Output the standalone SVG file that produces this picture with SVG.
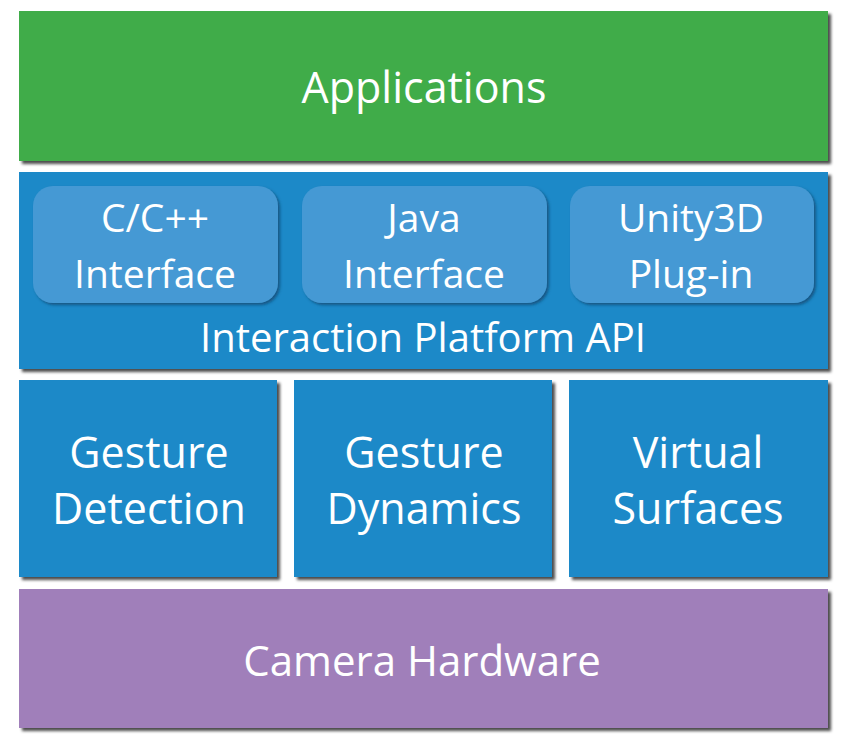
<svg xmlns="http://www.w3.org/2000/svg" width="843" height="745" viewBox="0 0 843 745">
  <defs>
    <filter id="shadow" x="-5%" y="-5%" width="115%" height="120%">
      <feDropShadow dx="3" dy="3" stdDeviation="1.4" flood-color="#000" flood-opacity="0.7"/>
    </filter>
    <filter id="softShadow" x="-5%" y="-5%" width="115%" height="120%">
      <feDropShadow dx="2" dy="2" stdDeviation="1.5" flood-color="#0a3f66" flood-opacity="0.7"/>
    </filter>
  </defs>
  <style>
    text { font-family: "Open Sans", "Noto Sans", "Liberation Sans", sans-serif; fill: #ffffff; text-anchor: middle; }
    .green { fill: #41ac4a; }
    .blue { fill: #1b89c8; }
    .inner { fill: #4499d4; }
    .purple { fill: #a07fba; }
    .big { font-size: 43px; }
    .api { font-size: 40px; }
    .hw { font-size: 42px; }
    .mod { font-size: 39px; }
  </style>
  <rect width="843" height="745" fill="#ffffff"/>

  <g id="applications">
    <rect class="green" x="19" y="11" width="809" height="150" filter="url(#shadow)"/>
    <text class="big" x="424" y="103">Applications</text>
  </g>

  <g id="platform-api">
    <rect class="blue" x="19" y="172" width="809" height="197" filter="url(#shadow)"/>
    <text class="api" x="423" y="352">Interaction Platform API</text>
  </g>

  <g id="cpp-interface">
    <rect class="inner" x="33" y="186" width="245" height="117" rx="20" ry="20" filter="url(#softShadow)"/>
    <text class="mod" x="155" y="232">C/C++</text>
    <text class="mod" x="155" y="288">Interface</text>
  </g>

  <g id="java-interface">
    <rect class="inner" x="302" y="186" width="245" height="117" rx="20" ry="20" filter="url(#softShadow)"/>
    <text class="mod" x="424" y="232">Java</text>
    <text class="mod" x="424" y="288">Interface</text>
  </g>

  <g id="unity-plugin">
    <rect class="inner" x="570" y="186" width="244" height="117" rx="20" ry="20" filter="url(#softShadow)"/>
    <text class="mod" x="691" y="232">Unity3D</text>
    <text class="mod" x="691" y="288">Plug-in</text>
  </g>

  <g id="gesture-detection">
    <rect class="blue" x="19" y="380" width="258" height="197" filter="url(#shadow)"/>
    <text class="big" x="149" y="468">Gesture</text>
    <text class="big" x="149" y="524">Detection</text>
  </g>

  <g id="gesture-dynamics">
    <rect class="blue" x="294" y="380" width="258" height="197" filter="url(#shadow)"/>
    <text class="big" x="424" y="468">Gesture</text>
    <text class="big" x="424" y="524">Dynamics</text>
  </g>

  <g id="virtual-surfaces">
    <rect class="blue" x="569" y="380" width="259" height="197" filter="url(#shadow)"/>
    <text class="big" x="698" y="468">Virtual</text>
    <text class="big" x="698" y="524">Surfaces</text>
  </g>

  <g id="camera-hardware">
    <rect class="purple" x="19" y="589" width="809" height="139" filter="url(#shadow)"/>
    <text class="hw" x="422" y="676">Camera Hardware</text>
  </g>

  <g id="connectors"/>
</svg>
